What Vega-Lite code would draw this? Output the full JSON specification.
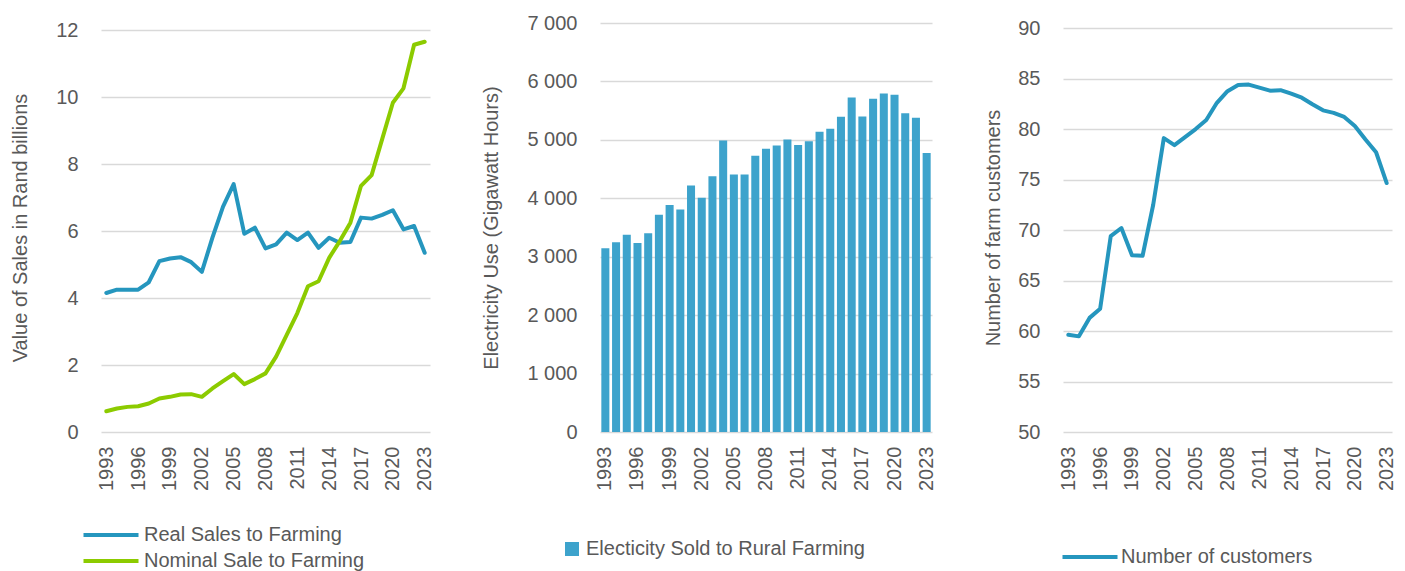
{
  "$schema": "https://vega.github.io/schema/vega-lite/v6.json",
  "padding": {"left": 10, "top": 13, "right": 5, "bottom": 0},
  "spacing": 46,
  "resolve": {
    "scale": {"color": "independent", "fill": "independent"},
    "legend": {"color": "independent", "fill": "independent"}
  },
  "config": {
    "view": {"stroke": null},
    "font": "Liberation Sans",
    "axis": {
      "labelFont": "Liberation Sans",
      "labelFontSize": 20,
      "labelColor": "#595959",
      "titleFont": "Liberation Sans",
      "titleFontSize": 20,
      "titleFontWeight": "normal",
      "titleColor": "#595959",
      "ticks": false,
      "domain": false,
      "gridColor": "#D9D9D9",
      "gridWidth": 1.5
    },
    "axisX": {"grid": false, "labelAngle": -90, "labelPadding": 14, "title": null},
    "axisY": {"labelPadding": 23},
    "legend": {
      "orient": "none",
      "direction": "vertical",
      "title": null,
      "padding": 0,
      "labelFont": "Liberation Sans",
      "labelFontSize": 20,
      "labelColor": "#595959",
      "labelLimit": 500,
      "rowPadding": 3
    }
  },
  "datasets": {
    "sales": [
      {"year": 1993, "series": "Real Sales to Farming", "value": 4.15},
      {"year": 1994, "series": "Real Sales to Farming", "value": 4.25},
      {"year": 1995, "series": "Real Sales to Farming", "value": 4.25},
      {"year": 1996, "series": "Real Sales to Farming", "value": 4.25},
      {"year": 1997, "series": "Real Sales to Farming", "value": 4.47},
      {"year": 1998, "series": "Real Sales to Farming", "value": 5.1},
      {"year": 1999, "series": "Real Sales to Farming", "value": 5.18},
      {"year": 2000, "series": "Real Sales to Farming", "value": 5.22},
      {"year": 2001, "series": "Real Sales to Farming", "value": 5.07},
      {"year": 2002, "series": "Real Sales to Farming", "value": 4.78},
      {"year": 2003, "series": "Real Sales to Farming", "value": 5.8},
      {"year": 2004, "series": "Real Sales to Farming", "value": 6.73},
      {"year": 2005, "series": "Real Sales to Farming", "value": 7.4},
      {"year": 2006, "series": "Real Sales to Farming", "value": 5.92},
      {"year": 2007, "series": "Real Sales to Farming", "value": 6.1},
      {"year": 2008, "series": "Real Sales to Farming", "value": 5.48},
      {"year": 2009, "series": "Real Sales to Farming", "value": 5.6},
      {"year": 2010, "series": "Real Sales to Farming", "value": 5.95},
      {"year": 2011, "series": "Real Sales to Farming", "value": 5.73},
      {"year": 2012, "series": "Real Sales to Farming", "value": 5.95},
      {"year": 2013, "series": "Real Sales to Farming", "value": 5.5},
      {"year": 2014, "series": "Real Sales to Farming", "value": 5.8},
      {"year": 2015, "series": "Real Sales to Farming", "value": 5.65},
      {"year": 2016, "series": "Real Sales to Farming", "value": 5.67},
      {"year": 2017, "series": "Real Sales to Farming", "value": 6.4},
      {"year": 2018, "series": "Real Sales to Farming", "value": 6.37},
      {"year": 2019, "series": "Real Sales to Farming", "value": 6.48},
      {"year": 2020, "series": "Real Sales to Farming", "value": 6.62},
      {"year": 2021, "series": "Real Sales to Farming", "value": 6.05},
      {"year": 2022, "series": "Real Sales to Farming", "value": 6.15},
      {"year": 2023, "series": "Real Sales to Farming", "value": 5.35},
      {"year": 1993, "series": "Nominal Sale to Farming", "value": 0.62},
      {"year": 1994, "series": "Nominal Sale to Farming", "value": 0.7},
      {"year": 1995, "series": "Nominal Sale to Farming", "value": 0.75},
      {"year": 1996, "series": "Nominal Sale to Farming", "value": 0.77},
      {"year": 1997, "series": "Nominal Sale to Farming", "value": 0.85},
      {"year": 1998, "series": "Nominal Sale to Farming", "value": 1.0},
      {"year": 1999, "series": "Nominal Sale to Farming", "value": 1.05},
      {"year": 2000, "series": "Nominal Sale to Farming", "value": 1.12},
      {"year": 2001, "series": "Nominal Sale to Farming", "value": 1.13},
      {"year": 2002, "series": "Nominal Sale to Farming", "value": 1.05},
      {"year": 2003, "series": "Nominal Sale to Farming", "value": 1.3},
      {"year": 2004, "series": "Nominal Sale to Farming", "value": 1.52},
      {"year": 2005, "series": "Nominal Sale to Farming", "value": 1.73},
      {"year": 2006, "series": "Nominal Sale to Farming", "value": 1.43},
      {"year": 2007, "series": "Nominal Sale to Farming", "value": 1.58},
      {"year": 2008, "series": "Nominal Sale to Farming", "value": 1.75},
      {"year": 2009, "series": "Nominal Sale to Farming", "value": 2.25},
      {"year": 2010, "series": "Nominal Sale to Farming", "value": 2.9},
      {"year": 2011, "series": "Nominal Sale to Farming", "value": 3.55},
      {"year": 2012, "series": "Nominal Sale to Farming", "value": 4.35},
      {"year": 2013, "series": "Nominal Sale to Farming", "value": 4.5},
      {"year": 2014, "series": "Nominal Sale to Farming", "value": 5.2},
      {"year": 2015, "series": "Nominal Sale to Farming", "value": 5.7},
      {"year": 2016, "series": "Nominal Sale to Farming", "value": 6.25},
      {"year": 2017, "series": "Nominal Sale to Farming", "value": 7.35},
      {"year": 2018, "series": "Nominal Sale to Farming", "value": 7.67},
      {"year": 2019, "series": "Nominal Sale to Farming", "value": 8.75},
      {"year": 2020, "series": "Nominal Sale to Farming", "value": 9.83},
      {"year": 2021, "series": "Nominal Sale to Farming", "value": 10.26},
      {"year": 2022, "series": "Nominal Sale to Farming", "value": 11.56},
      {"year": 2023, "series": "Nominal Sale to Farming", "value": 11.65}
    ],
    "elec": [
      {"year": 1993, "series": "Electicity Sold to Rural Farming", "gwh": 3143},
      {"year": 1994, "series": "Electicity Sold to Rural Farming", "gwh": 3246},
      {"year": 1995, "series": "Electicity Sold to Rural Farming", "gwh": 3377},
      {"year": 1996, "series": "Electicity Sold to Rural Farming", "gwh": 3234},
      {"year": 1997, "series": "Electicity Sold to Rural Farming", "gwh": 3400},
      {"year": 1998, "series": "Electicity Sold to Rural Farming", "gwh": 3720},
      {"year": 1999, "series": "Electicity Sold to Rural Farming", "gwh": 3886},
      {"year": 2000, "series": "Electicity Sold to Rural Farming", "gwh": 3806},
      {"year": 2001, "series": "Electicity Sold to Rural Farming", "gwh": 4217},
      {"year": 2002, "series": "Electicity Sold to Rural Farming", "gwh": 4011},
      {"year": 2003, "series": "Electicity Sold to Rural Farming", "gwh": 4377},
      {"year": 2004, "series": "Electicity Sold to Rural Farming", "gwh": 4989},
      {"year": 2005, "series": "Electicity Sold to Rural Farming", "gwh": 4406},
      {"year": 2006, "series": "Electicity Sold to Rural Farming", "gwh": 4406},
      {"year": 2007, "series": "Electicity Sold to Rural Farming", "gwh": 4726},
      {"year": 2008, "series": "Electicity Sold to Rural Farming", "gwh": 4846},
      {"year": 2009, "series": "Electicity Sold to Rural Farming", "gwh": 4903},
      {"year": 2010, "series": "Electicity Sold to Rural Farming", "gwh": 5006},
      {"year": 2011, "series": "Electicity Sold to Rural Farming", "gwh": 4914},
      {"year": 2012, "series": "Electicity Sold to Rural Farming", "gwh": 4977},
      {"year": 2013, "series": "Electicity Sold to Rural Farming", "gwh": 5137},
      {"year": 2014, "series": "Electicity Sold to Rural Farming", "gwh": 5189},
      {"year": 2015, "series": "Electicity Sold to Rural Farming", "gwh": 5394},
      {"year": 2016, "series": "Electicity Sold to Rural Farming", "gwh": 5726},
      {"year": 2017, "series": "Electicity Sold to Rural Farming", "gwh": 5400},
      {"year": 2018, "series": "Electicity Sold to Rural Farming", "gwh": 5703},
      {"year": 2019, "series": "Electicity Sold to Rural Farming", "gwh": 5794},
      {"year": 2020, "series": "Electicity Sold to Rural Farming", "gwh": 5771},
      {"year": 2021, "series": "Electicity Sold to Rural Farming", "gwh": 5457},
      {"year": 2022, "series": "Electicity Sold to Rural Farming", "gwh": 5377},
      {"year": 2023, "series": "Electicity Sold to Rural Farming", "gwh": 4777}
    ],
    "cust": [
      {"year": 1993, "series": "Number of customers", "customers": 59.63},
      {"year": 1994, "series": "Number of customers", "customers": 59.47},
      {"year": 1995, "series": "Number of customers", "customers": 61.3},
      {"year": 1996, "series": "Number of customers", "customers": 62.2},
      {"year": 1997, "series": "Number of customers", "customers": 69.4},
      {"year": 1998, "series": "Number of customers", "customers": 70.2},
      {"year": 1999, "series": "Number of customers", "customers": 67.5},
      {"year": 2000, "series": "Number of customers", "customers": 67.45},
      {"year": 2001, "series": "Number of customers", "customers": 72.5},
      {"year": 2002, "series": "Number of customers", "customers": 79.1},
      {"year": 2003, "series": "Number of customers", "customers": 78.4},
      {"year": 2004, "series": "Number of customers", "customers": 79.2},
      {"year": 2005, "series": "Number of customers", "customers": 80.0},
      {"year": 2006, "series": "Number of customers", "customers": 80.9},
      {"year": 2007, "series": "Number of customers", "customers": 82.6},
      {"year": 2008, "series": "Number of customers", "customers": 83.75},
      {"year": 2009, "series": "Number of customers", "customers": 84.35},
      {"year": 2010, "series": "Number of customers", "customers": 84.4},
      {"year": 2011, "series": "Number of customers", "customers": 84.1},
      {"year": 2012, "series": "Number of customers", "customers": 83.8},
      {"year": 2013, "series": "Number of customers", "customers": 83.85},
      {"year": 2014, "series": "Number of customers", "customers": 83.5},
      {"year": 2015, "series": "Number of customers", "customers": 83.1},
      {"year": 2016, "series": "Number of customers", "customers": 82.45},
      {"year": 2017, "series": "Number of customers", "customers": 81.85},
      {"year": 2018, "series": "Number of customers", "customers": 81.6},
      {"year": 2019, "series": "Number of customers", "customers": 81.2},
      {"year": 2020, "series": "Number of customers", "customers": 80.3},
      {"year": 2021, "series": "Number of customers", "customers": 78.97},
      {"year": 2022, "series": "Number of customers", "customers": 77.7},
      {"year": 2023, "series": "Number of customers", "customers": 74.65}
    ]
  },
  "hconcat": [
    {
      "width": 329,
      "height": 409,
      "data": {"name": "sales"},
      "mark": {"type": "line", "strokeWidth": 4, "strokeCap": "round", "strokeJoin": "round"},
      "encoding": {
        "x": {
          "field": "year", "type": "ordinal",
          "scale": {"type": "point", "padding": 0.5},
          "axis": {"values": [1993, 1996, 1999, 2002, 2005, 2008, 2011, 2014, 2017, 2020, 2023]}
        },
        "y": {
          "field": "value", "type": "quantitative",
          "scale": {"domain": [0, 12.21], "nice": false},
          "axis": {"values": [0, 2, 4, 6, 8, 10, 12], "title": "Value of Sales in Rand billions", "titlePadding": 25}
        },
        "color": {
          "field": "series", "type": "nominal",
          "scale": {"domain": ["Real Sales to Farming", "Nominal Sale to Farming"], "range": ["#2596BE", "#8CCB00"]},
          "legend": {"legendX": -3, "legendY": 499, "symbolType": "M-2.5,0H2.5", "symbolSize": 484, "symbolStrokeWidth": 4, "labelOffset": 20}
        }
      }
    },
    {
      "width": 332,
      "height": 409,
      "data": {"name": "elec"},
      "mark": {"type": "bar", "color": "#3DA3CC"},
      "encoding": {
        "x": {
          "field": "year", "type": "ordinal",
          "scale": {"paddingInner": 0.25, "paddingOuter": 0.125},
          "axis": {"values": [1993, 1996, 1999, 2002, 2005, 2008, 2011, 2014, 2017, 2020, 2023]}
        },
        "y": {
          "field": "gwh", "type": "quantitative",
          "scale": {"domain": [0, 7000], "nice": false},
          "axis": {"values": [0, 1000, 2000, 3000, 4000, 5000, 6000, 7000], "labelExpr": "replace(format(datum.value, ','), ',', ' ')", "title": "Electricity Use (Gigawatt Hours)", "titlePadding": 25}
        },
        "fill": {
          "field": "series", "type": "nominal",
          "scale": {"range": ["#3DA3CC"]},
          "legend": {"legendX": -38, "legendY": 516, "symbolType": "square", "symbolSize": 196, "labelOffset": 4}
        }
      }
    },
    {
      "width": 329,
      "height": 409,
      "data": {"name": "cust"},
      "mark": {"type": "line", "strokeWidth": 4, "strokeCap": "round", "strokeJoin": "round"},
      "encoding": {
        "x": {
          "field": "year", "type": "ordinal",
          "scale": {"type": "point", "padding": 0.5},
          "axis": {"values": [1993, 1996, 1999, 2002, 2005, 2008, 2011, 2014, 2017, 2020, 2023]}
        },
        "y": {
          "field": "customers", "type": "quantitative",
          "scale": {"domain": [50, 90.5], "nice": false},
          "axis": {"values": [50, 55, 60, 65, 70, 75, 80, 85, 90], "title": "Number of farm customers", "titlePadding": 14}
        },
        "color": {
          "field": "series", "type": "nominal",
          "scale": {"range": ["#2596BE"]},
          "legend": {"legendX": 14, "legendY": 521, "symbolType": "M-2.5,0H2.5", "symbolSize": 484, "symbolStrokeWidth": 4, "labelOffset": 18}
        }
      }
    }
  ]
}
